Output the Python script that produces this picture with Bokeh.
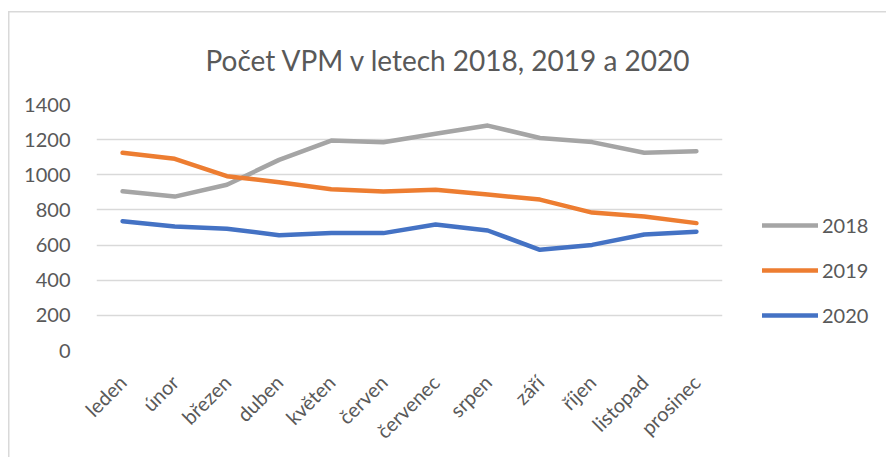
import math
from bokeh.plotting import figure
from bokeh.models import FactorRange, Legend, LegendItem, ColumnDataSource, Range1d, FixedTicker
from bokeh.embed import file_html
from bokeh.resources import INLINE

months = ["leden", "únor", "březen", "duben", "květen", "červen",
          "červenec", "srpen", "září", "říjen", "listopad", "prosinec"]
v2018 = [906, 876, 943, 1085, 1195, 1185, 1233, 1280, 1209, 1186, 1125, 1134]
v2019 = [1125, 1091, 992, 958, 918, 905, 915, 888, 859, 785, 763, 725]
v2020 = [736, 706, 693, 656, 668, 668, 717, 683, 573, 601, 660, 676]
y_ticks = [0, 200, 400, 600, 800, 1000, 1200, 1400]
series_names = ["2018", "2019", "2020"]
colors = ["#A5A5A5", "#ED7D31", "#4472C4"]

FONT = "Lato"
TXT = "#595959"

p = figure(width=878, height=446, output_backend="svg", toolbar_location=None,
           x_range=FactorRange(*months, range_padding=0), y_range=Range1d(0, 1400),
           frame_width=626, frame_height=246,
           min_border_left=88, min_border_right=164, min_border_top=93, min_border_bottom=107)
p.styles = {"margin-left": "8px", "margin-top": "11px",
            "box-shadow": "inset 1.5px 1.5px 0 0 #D9D9D9"}
p.border_fill_color = None
p.background_fill_color = "white"
p.outline_line_color = None

p.title.text = "Počet VPM v letech 2018, 2019 a 2020"
p.title.text_font = FONT
p.title.text_font_style = "normal"
p.title.text_font_size = "28px"
p.title.text_color = TXT
p.title.align = "left"
p.title.offset = 109
p.title.standoff = 56

p.yaxis.ticker = FixedTicker(ticks=y_ticks)
for ax in (p.xaxis, p.yaxis):
    ax.axis_line_color = None
    ax.major_tick_line_color = None
    ax.minor_tick_line_color = None
    ax.major_label_text_font = FONT
    ax.major_label_text_font_size = "20px"
    ax.major_label_text_color = TXT
p.yaxis.major_label_standoff = 20
p.xaxis.major_label_orientation = math.pi / 4
p.xaxis.major_label_standoff = 22

p.xgrid.grid_line_color = None
p.ygrid.grid_line_color = "#D9D9D9"
p.ygrid.grid_line_width = 1.5

renderers = []
for name, vals, c in zip(series_names, [v2018, v2019, v2020], colors):
    src = ColumnDataSource(dict(x=months, y=vals))
    r = p.line("x", "y", source=src, line_color=c, line_width=4.5,
               line_cap="round", line_join="round")
    renderers.append(r)

legend = Legend(items=[LegendItem(label=n, renderers=[r]) for n, r in zip(series_names, renderers)],
                location=(40, 23), orientation="vertical")
legend.border_line_color = None
legend.background_fill_alpha = 0
legend.margin = 0
legend.padding = 0
legend.spacing = 21
legend.glyph_width = 56
legend.glyph_height = 20
legend.label_height = 20
legend.label_standoff = 4
legend.label_text_font = FONT
legend.label_text_font_size = "20px"
legend.label_text_color = TXT
p.add_layout(legend, "right")

open("out.html", "w").write(file_html(p, INLINE))
